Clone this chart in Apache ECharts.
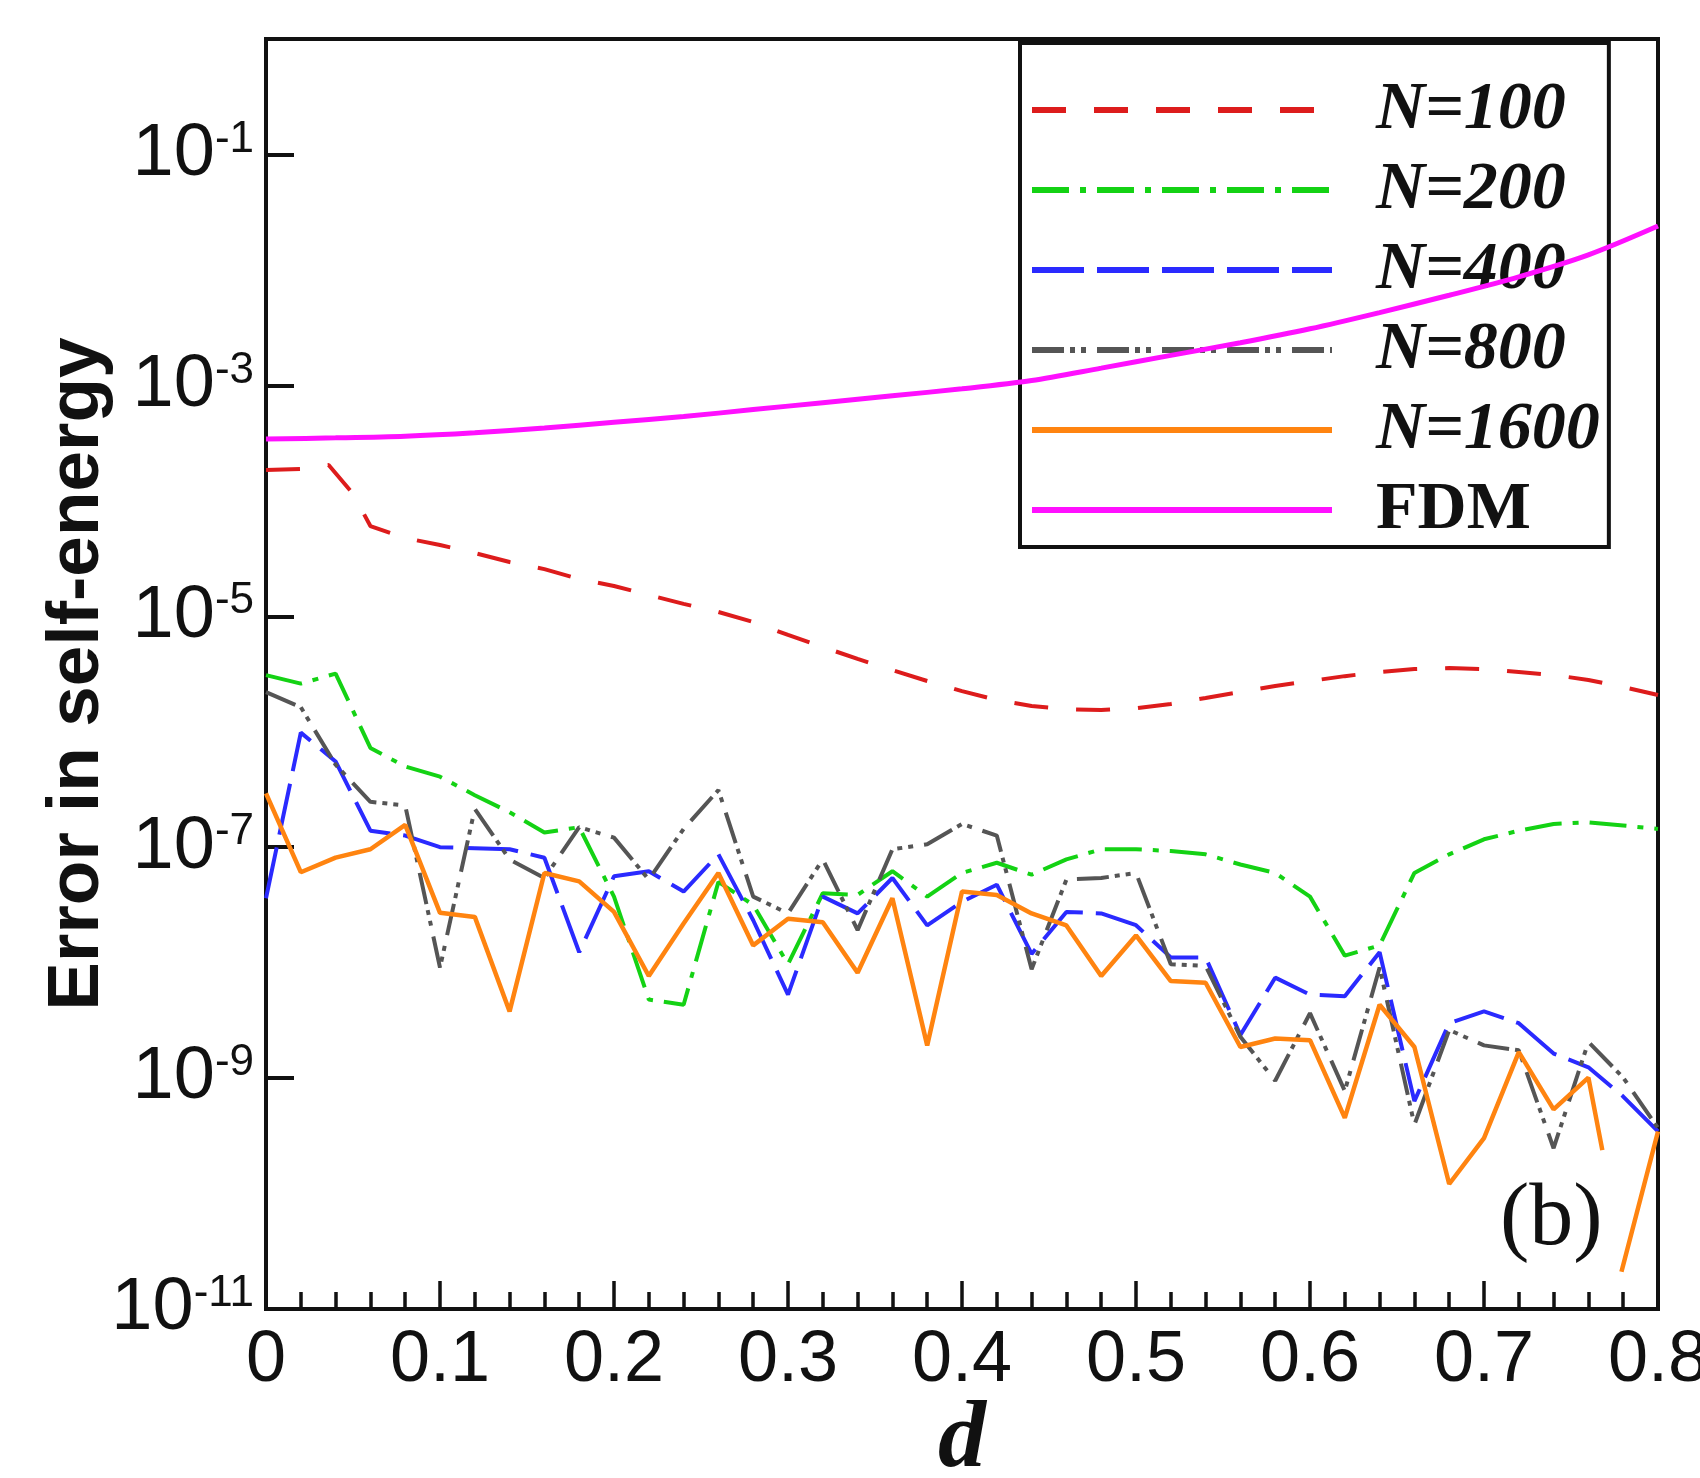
<!DOCTYPE html>
<html><head><meta charset="utf-8">
<script src="https://cdn.jsdelivr.net/npm/echarts@6/dist/echarts.min.js"></script>
<style>html,body{margin:0;padding:0;background:#fff}#c{width:1700px;height:1478px}</style>
</head><body><div id="c"></div>
<script>
// ---- data ----
const dGrid = [0,0.02,0.04,0.06,0.08,0.10,0.12,0.14,0.16,0.18,0.20,0.22,0.24,0.26,0.28,0.30,0.32,0.34,0.36,0.38,0.40,0.42,0.44,0.46,0.48,0.50,0.52,0.54,0.56,0.58,0.60,0.62,0.64,0.66,0.68,0.70,0.72,0.74,0.76,0.78,0.80];

const d100 = [0,0.02,0.036,0.05,0.06,0.08,0.10,0.12,0.14,0.16,0.18,0.20,0.22,0.24,0.26,0.28,0.30,0.32,0.34,0.36,0.38,0.40,0.42,0.44,0.46,0.48,0.50,0.52,0.54,0.56,0.58,0.60,0.62,0.64,0.66,0.68,0.70,0.72,0.74,0.76,0.78,0.80];
const err100 = [1.85e-4,1.89e-4,2.04e-4,1.15e-4,6.05e-5,4.76e-5,4.14e-5,3.53e-5,2.95e-5,2.56e-5,2.10e-5,1.83e-5,1.53e-5,1.28e-5,1.09e-5,8.91e-6,6.89e-6,5.42e-6,4.27e-6,3.42e-6,2.75e-6,2.25e-6,1.88e-6,1.67e-6,1.57e-6,1.54e-6,1.60e-6,1.74e-6,1.96e-6,2.21e-6,2.49e-6,2.75e-6,3.03e-6,3.29e-6,3.49e-6,3.56e-6,3.49e-6,3.29e-6,3.10e-6,2.81e-6,2.44e-6,2.08e-6];

const err200 = [3.09e-6,2.61e-6,3.19e-6,7.24e-7,5.00e-7,4.08e-7,2.82e-7,2.01e-7,1.34e-7,1.49e-7,3.73e-8,4.79e-9,4.32e-9,5.00e-8,3.16e-8,9.70e-9,3.99e-8,3.86e-8,6.19e-8,3.73e-8,5.98e-8,7.33e-8,5.78e-8,7.83e-8,9.59e-8,9.59e-8,9.27e-8,8.67e-8,7.08e-8,5.98e-8,3.73e-8,1.15e-8,1.41e-8,5.98e-8,8.67e-8,1.17e-7,1.39e-7,1.59e-7,1.64e-7,1.54e-7,1.44e-7];

const err400 = [3.61e-8,9.82e-7,5.53e-7,1.39e-7,1.26e-7,1.00e-7,9.79e-8,9.59e-8,8.11e-8,1.23e-8,5.60e-8,6.19e-8,4.13e-8,8.67e-8,2.33e-8,5.28e-9,3.73e-8,2.67e-8,5.41e-8,2.10e-8,3.37e-8,4.73e-8,1.19e-8,2.75e-8,2.67e-8,2.11e-8,1.11e-8,1.11e-8,2.36e-9,7.41e-9,5.28e-9,5.12e-9,1.23e-8,6.32e-10,2.99e-9,3.78e-9,2.99e-9,1.63e-9,1.24e-9,6.92e-10,3.45e-10];

const err800 = [2.20e-6,1.63e-6,5.18e-7,2.47e-7,2.30e-7,9.06e-9,2.15e-7,7.83e-8,5.41e-8,1.49e-7,1.21e-7,5.24e-8,1.44e-7,3.12e-7,3.73e-8,2.67e-8,7.83e-8,1.91e-8,9.59e-8,1.06e-7,1.59e-7,1.26e-7,8.77e-9,5.24e-8,5.41e-8,5.98e-8,9.70e-9,9.38e-9,2.28e-9,9.48e-10,3.65e-9,7.74e-10,9.08e-9,3.94e-10,2.61e-9,1.92e-9,1.74e-9,2.47e-10,2.06e-9,1.01e-9,3.69e-10];

const d1600 = [0,0.02,0.04,0.06,0.08,0.10,0.12,0.14,0.16,0.18,0.20,0.22,0.24,0.26,0.28,0.30,0.32,0.34,0.36,0.38,0.40,0.42,0.44,0.46,0.48,0.50,0.52,0.54,0.56,0.58,0.60,0.62,0.64,0.66,0.68,0.70,0.72,0.74,0.76,0.768,0.774,0.779,0.80];
const err1600 = [2.92e-7,6.07e-8,8.11e-8,9.59e-8,1.56e-7,2.70e-8,2.49e-8,3.78e-9,5.98e-8,5.06e-8,2.75e-8,7.66e-9,2.18e-8,5.98e-8,1.41e-8,2.40e-8,2.24e-8,8.18e-9,3.61e-8,1.92e-9,4.13e-8,3.86e-8,2.67e-8,2.10e-8,7.66e-9,1.72e-8,6.92e-9,6.70e-9,1.86e-9,2.20e-9,2.13e-9,4.52e-10,4.32e-9,1.86e-9,1.21e-10,3.02e-10,1.68e-9,5.35e-10,1.01e-9,2.38e-10,null,2.10e-11,3.45e-10];

const dFDM = [0,0.04,0.08,0.12,0.16,0.20,0.24,0.28,0.32,0.36,0.40,0.44,0.48,0.52,0.56,0.60,0.64,0.68,0.72,0.76,0.80];
const errFDM = [3.43e-4,3.51e-4,3.63e-4,3.89e-4,4.27e-4,4.79e-4,5.37e-4,6.17e-4,7.08e-4,8.13e-4,9.33e-4,1.10e-3,1.41e-3,1.82e-3,2.34e-3,3.09e-3,4.27e-3,6.03e-3,8.71e-3,1.35e-2,2.40e-2];

const seriesNames = ['N=100','N=200','N=400','N=800','N=1600','FDM'];
const xTickLabels = ['0','0.1','0.2','0.3','0.4','0.5','0.6','0.7','0.8'];

// ---- build ----
function pairs(xs, ys) { return xs.map((x, i) => [x, ys[i] == null ? '-' : ys[i]]); }

const chart = echarts.init(document.getElementById('c'), null, {renderer: 'canvas'});
const INK = '#111';
function lineSeries(name, data, color, width, dash, z, smooth) {
  return {
    name: name, type: 'line', data: data, showSymbol: false, symbol: 'none',
    smooth: smooth || false, clip: true, z: z, connectNulls: false,
    lineStyle: {color: color, width: width, type: dash},
    itemStyle: {color: color},
    emphasis: {disabled: true}
  };
}

chart.setOption({
  animation: false,
  backgroundColor: '#fff',
  grid: {left: 266, right: 42, top: 39, bottom: 169, outerBoundsMode: 'none', containLabel: false,
    show: true, borderColor: INK, borderWidth: 4, backgroundColor: 'transparent'},
  xAxis: {
    type: 'value', min: 0, max: 0.8, interval: 0.1,
    axisLine: {show: true, onZero: false, lineStyle: {color: INK, width: 4}},
    axisTick: {show: true, inside: true, length: 28, lineStyle: {color: INK, width: 3.5}},
    minorTick: {show: true, splitNumber: 5, length: 17, lineStyle: {color: INK, width: 3.5}},
    splitLine: {show: false},
    axisLabel: {margin: 16, fontFamily: 'Liberation Sans', fontSize: 72, lineHeight: 72, color: INK,
      formatter: function (v) { return xTickLabels[Math.round(v * 10)]; }},
    name: 'd', nameLocation: 'middle', nameGap: 84, nameMoveOverlap: false,
    nameTextStyle: {fontFamily: 'Liberation Serif', fontStyle: 'italic', fontWeight: 'bold', fontSize: 96, lineHeight: 96, color: INK}
  },
  yAxis: {
    type: 'log', logBase: 10, min: 1e-11, max: 1, interval: 2,
    axisLine: {show: true, onZero: false, lineStyle: {color: INK, width: 4}},
    axisTick: {show: true, inside: true, length: 28, lineStyle: {color: INK, width: 4}},
    splitLine: {show: false},
    axisLabel: {
      margin: 12, color: INK,
      formatter: function (v) {
        const e = Math.round(Math.log10(v));
        if (e >= 0) return '';
        return '{b|10}{s|' + e + '}';
      },
      rich: {
        b: {fontFamily: 'Liberation Sans', fontSize: 74, lineHeight: 74, color: INK, verticalAlign: 'middle'},
        s: {fontFamily: 'Liberation Sans', fontSize: 44, lineHeight: 22, color: INK, verticalAlign: 'top'}
      }
    },
    name: 'Error in self-energy', nameLocation: 'middle', nameGap: 188, nameMoveOverlap: false,
    nameTextStyle: {fontFamily: 'Liberation Sans', fontWeight: 'bold', fontSize: 73, color: INK, align: 'center', verticalAlign: 'middle'}
  },
  legend: {
    orient: 'vertical', left: 1020, top: 43,
    padding: [33, 9, 3, 9],
    itemWidth: 300, itemHeight: 20, itemGap: 12,
    borderColor: INK, borderWidth: 4, backgroundColor: 'transparent',
    selectedMode: false,
    itemStyle: {opacity: 0},
    lineStyle: {width: 6},
    data: seriesNames,
    formatter: function (n) { return n === 'FDM' ? '{u|FDM}' : '{i|' + n + '}'; },
    textStyle: {
      rich: {
        i: {fontFamily: 'Liberation Serif', fontStyle: 'italic', fontWeight: 'bold', fontSize: 68, lineHeight: 70, color: INK, padding: [0, 0, 0, 39], width: 223},
        u: {fontFamily: 'Liberation Serif', fontWeight: 'bold', fontSize: 68, lineHeight: 70, color: INK, padding: [0, 0, 0, 39], width: 223}
      }
    }
  },
  graphic: [{
    type: 'text', left: 1500, top: 1177, z: 10,
    style: {text: '(b)', font: '88px "Liberation Serif"', fill: INK}
  }],
  series: [
    lineSeries(seriesNames[0], pairs(d100, err100), '#dd1c1c', 4, [34, 28], 2),
    lineSeries(seriesNames[1], pairs(dGrid, err200), '#14d214', 4, [37, 11, 6, 11], 3),
    lineSeries(seriesNames[2], pairs(dGrid, err400), '#2a2aff', 4, [52, 13], 4),
    lineSeries(seriesNames[3], pairs(dGrid, err800), '#555555', 4, [32, 6, 5, 6, 5, 11], 5),
    lineSeries(seriesNames[4], pairs(d1600, err1600), '#ff8410', 4.5, 'solid', 6),
    lineSeries(seriesNames[5], pairs(dFDM, errFDM), '#ff10ff', 5, 'solid', 7, 0.3)
  ]
});
</script>
</body></html>
